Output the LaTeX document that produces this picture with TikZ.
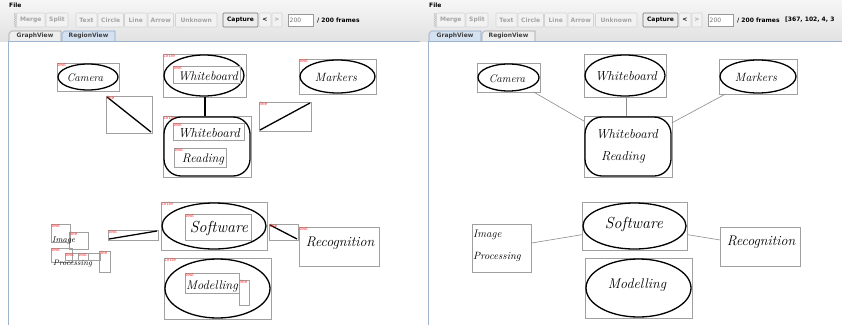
\documentclass[tikz,border=0pt]{standalone}
\usepackage{fontspec}
\newfontfamily\guifont{DejaVu Sans}
\usetikzlibrary{shapes.geometric}
\definecolor{gboxc}{HTML}{A0A0A0}
\definecolor{bluel}{HTML}{9DB4CE}
\definecolor{tabsel}{HTML}{D3E1F0}
\definecolor{tabB}{HTML}{8FA8C8}
\definecolor{topA}{HTML}{F6F6F6}
\definecolor{topB}{HTML}{E2E2E2}
\definecolor{btnB}{HTML}{D4D4D4}
\definecolor{btnF}{HTML}{F2F2F2}
\definecolor{disT}{HTML}{A4A4A4}
\definecolor{labred}{HTML}{FF2A2A}
\definecolor{conn}{HTML}{8C8C8C}
\newcommand\bx[6]{%
  \pgfmathsetmacro\bxcx{(#2+#4)/2}%
  \pgfmathsetmacro\bxcy{(#3+#5)/2}%
  \pgfmathsetmacro\bxw{#4-#2}%
  \pgfmathsetmacro\bxh{#5-#3}%
  \node[#6, minimum width=\bxw pt, minimum height=\bxh pt] (#1) at (\bxcx,\bxcy) {};}
\newcommand\btn[5]{% name x1 x2 text style
  \pgfmathsetmacro\bxcx{(#2+#3)/2}%
  \pgfmathsetmacro\bxw{#3-#2}%
  \node[#5, minimum width=\bxw pt] (#1) at (\bxcx,20) {#4};}
\newcommand\tabshape[6]{% name x1 x2 text fill draw
  \fill[#5] (#2,41) -- (#2,33.5) -- (#2+2.5,31) -- (#3,31) -- (#3,41) -- cycle;
  \draw[#6, line width=0.6pt] (#2,41) -- (#2,33.5) -- (#2+2.5,31) -- (#3,31) -- (#3,41);
  \pgfmathsetmacro\bxcx{(#2+#3)/2}%
  \node[gui, text=black!75] (#1) at (\bxcx,36) {#4};}
\newcommand\chrome[4]{% offset width suffix selected
\begin{scope}[xshift=#1pt]
  \shade[top color=topA, bottom color=topB] (0,0) rectangle (#2,41);
  \node[gui, anchor=west] (file#3) at (9,5) {File};
  \fill[black!12] (13.5,12.5) rectangle (16.5,27.5);
  \foreach \yy in {13.5,15.5,...,26.5} {\fill[black!35] (14.3,\yy) circle (0.35); \fill[black!35] (15.7,\yy+1) circle (0.35);}
  \btn{merge#3}{16.5}{45}{Merge}{dbtn}
  \btn{split#3}{46}{68}{Split}{dbtn}
  \btn{text#3}{76}{97}{Text}{dbtn}
  \btn{circ#3}{98}{123.5}{Circle}{dbtn}
  \btn{line#3}{124.5}{147}{Line}{dbtn}
  \btn{arrow#3}{148}{173.5}{Arrow}{dbtn}
  \btn{unk#3}{175.5}{217}{Unknown}{dbtn}
  \btn{cap#3}{223}{258}{Capture}{ebtn}
  \btn{prev#3}{259}{271}{<}{dbtn, text=black}
  \btn{next#3}{272}{282}{>}{dbtn}
  \btn{fld#3}{288}{313}{\phantom{0}}{fieldst}
  \node[gui, font=\guifont\fontsize{6}{7}\selectfont, text=black!55, anchor=west] (val#3) at (289.5,20) {200};
  \node[gui, anchor=west] (frm#3) at (317,20) {/ 200 frames};
  \ifnum#4=1
    \tabshape{gv#3}{9}{61}{GraphView}{tabsel}{tabB}
    \tabshape{rv#3}{62}{115}{RegionView}{topB!60!white}{gboxc}
  \else
    \tabshape{gv#3}{9}{61}{GraphView}{topB!60!white}{gboxc}
    \tabshape{rv#3}{62}{115}{RegionView}{tabsel}{tabB}
  \fi
  \draw[bluel, line width=0.9pt] (8,41) -- (#2,41);
  \draw[bluel, line width=0.9pt] (8,41) -- (8,330);
\end{scope}}
\begin{document}
\begin{tikzpicture}[x=1pt,y=-1pt,
  gui/.style={font=\guifont\bfseries\fontsize{6}{7}\selectfont, inner sep=0},
  dbtn/.style={gui, draw=btnB, fill=btnF, text=disT, rounded corners=1pt, minimum height=14pt, line width=0.6pt},
  ebtn/.style={dbtn, draw=black!55, fill=black!7, text=black},
  fieldst/.style={gui, draw=black!40, fill=white, minimum height=12pt, line width=0.6pt},
  gbox/.style={rectangle, draw=gboxc, line width=0.8pt, inner sep=0, outer sep=0},
  hwel/.style={ellipse, draw=black, line width=1.3pt, inner sep=0, outer sep=0},
  blob/.style={rectangle, rounded corners=17pt, draw=black, line width=1.3pt, inner sep=0, outer sep=0},
  lab/.style={font=\guifont\fontsize{4.3}{5}\selectfont, text=labred, inner sep=0.4pt, anchor=north west},
  blk/.style={draw=black, line width=1.3pt},
  cn/.style={draw=conn, line width=0.6pt},
  hw/.style={inner sep=0, font=\itshape\fontsize{#1}{#1}\selectfont},
  hw/.default=12]
\useasboundingbox (0,0) rectangle (842,324);
\clip (0,0) rectangle (842,324);
\fill[white] (0,0) rectangle (842,324);

\chrome{0}{423}{L}{2}
\chrome{420}{422}{R}{1}
\node[gui, anchor=west] (coords) at (785,20) {[367, 102, 4, 3};

% ===================== left window (RegionView) =====================
% Camera
\bx{camL}{57}{63}{119}{91}{gbox}
\bx{camLe}{58}{64}{118}{90}{hwel}
\node[hw=11] (camLt) at (85,78) {Camera};
\node[lab] (camLl) at (camL.north west) {text};
% line box 1
\bx{ln1}{106}{96}{152}{133}{gbox}
\draw[blk] ([shift={(1,1)}]ln1.north west) -- ([shift={(-1,-1)}]ln1.south east);
\node[lab] (ln1l) at (ln1.north west) {line};
% Whiteboard
\bx{wbL}{163}{54}{246}{97}{gbox}
\bx{wbLe}{164}{55}{244}{96}{hwel}
\bx{wbLi}{173}{66}{240}{83}{gbox}
\node[hw=12.5] (wbLt) at (208,76) {Whiteboard};
\node[lab] (wbLl) at (wbL.north west) {circle};
\node[lab] (wbLil) at (wbLi.north west) {text};
% Whiteboard Reading
\bx{wrL}{163}{116}{251}{177}{gbox}
\bx{wrLe}{164}{117}{250}{176}{blob}
\bx{wrLi}{173}{123}{244}{140}{gbox}
\bx{wrLj}{174}{148}{226}{167}{gbox}
\node[hw=13] (wrLt) at (209,133) {Whiteboard};
\node[hw=12.5] (wrLu) at (203,159) {Reading};
\node[lab] (wrLl) at (wrL.north west) {circle};
\node[lab] (wrLil) at (wrLi.north west) {text};
\node[lab] (wrLjl) at (wrLj.north west) {text};
\draw[blk] (wbL.south -| 205,0) -- (wrL.north -| 205,0);
% Markers
\bx{mkL}{299}{59}{376}{94}{gbox}
\bx{mkLe}{300}{60}{375}{93}{hwel}
\node[hw=12] (mkLt) at (336,77) {Markers};
\node[lab] (mkLl) at (mkL.north west) {text};
% line box 2
\bx{ln2}{259}{102}{311}{131}{gbox}
\draw[blk] ([shift={(1,-1)}]ln2.south west) -- ([shift={(-1,1)}]ln2.north east);
\node[lab] (ln2l) at (ln2.north west) {line};
% Image Processing fragments
\bx{imL}{51}{224}{70}{242}{gbox}
\bx{imL2}{69}{232}{88}{249}{gbox}
\bx{prL}{51}{248}{72}{262}{gbox}
\bx{prL2}{65}{253}{78}{260}{gbox}
\bx{prL3}{78}{253}{88}{260}{gbox}
\bx{prL4}{88}{253}{100}{260}{gbox}
\bx{prL5}{99}{251}{110}{272}{gbox}
\node[hw=8.5, anchor=west] (imLt) at (52,240.5) {Image};
\node[hw=8, anchor=west] (prLt) at (53,264) {Processing};
\node[lab] (imLl) at (imL.north west) {text};
\node[lab] (imL2l) at (imL2.north west) {line};
\node[lab] (prLl) at (prL.north west) {text};
\node[lab] (prL2l) at (prL2.north west) {text};
\node[lab] (prL3l) at (prL3.north west) {text};
\node[lab] (prL5l) at (prL5.north west) {line};
% small text-line box
\bx{tl}{108}{230}{158}{240}{gbox}
\draw[blk] ([shift={(1,-1)}]tl.south west) -- ([shift={(-1,1)}]tl.north east);
\node[lab] (tll) at (tl.north west) {text};
% Software
\bx{swL}{161}{202}{267}{250}{gbox}
\bx{swLe}{162}{203}{266}{249}{hwel}
\bx{swLi}{185}{214}{251}{240}{gbox}
\node[hw=16] (swLt) at (219,228) {Software};
\node[lab] (swLl) at (swL.north west) {circle};
\node[lab] (swLil) at (swLi.north west) {text};
% line box 3
\bx{ln3}{269}{224}{298}{240}{gbox}
\draw[blk] ([shift={(1,1)}]ln3.north west) -- ([shift={(-1,-1)}]ln3.south east);
\node[lab] (ln3l) at (ln3.north west) {line};
% Recognition
\bx{rcL}{299}{227}{379}{266}{gbox}
\node[hw=14] (rcLt) at (340,243) {Recognition};
\node[lab] (rcLl) at (rcL.north west) {text};
% Modelling
\bx{mdL}{164}{258}{271}{319}{gbox}
\bx{mdLe}{165}{259}{270}{318}{hwel}
\bx{mdLi}{185}{273}{239}{293}{gbox}
\bx{mdLj}{239}{280}{249}{305}{gbox}
\node[hw=12.5] (mdLt) at (212,286) {Modelling};
\node[lab] (mdLl) at (mdL.north west) {circle};
\node[lab] (mdLil) at (mdLi.north west) {text};
\node[lab] (mdLjl) at (mdLj.north west) {line};

% ===================== right window (GraphView) =====================
\bx{camR}{477}{63}{540}{92}{gbox}
\bx{camRe}{478}{64}{539}{91}{hwel}
\node[hw=11] (camRt) at (507,79) {Camera};
\bx{wbR}{584}{54}{666}{97}{gbox}
\bx{wbRe}{585}{55}{665}{96}{hwel}
\node[hw=13] (wbRt) at (626,76) {Whiteboard};
\bx{mkR}{719}{59}{797}{94}{gbox}
\bx{mkRe}{720}{60}{796}{93}{hwel}
\node[hw=12] (mkRt) at (756,77) {Markers};
\bx{wrR}{584}{116}{672}{177}{gbox}
\bx{wrRe}{585}{117}{671}{176}{blob}
\node[hw=13] (wrRt) at (627,134) {Whiteboard};
\node[hw=13] (wrRu) at (623,157) {Reading};
\bx{ipR}{472}{224}{531}{272}{gbox}
\node[hw=11, anchor=west] (ipRt) at (473,235) {Image};
\node[hw=10.5, anchor=west] (ipRu) at (473,257) {Processing};
\bx{swR}{582}{202}{687}{250}{gbox}
\bx{swRe}{583}{203}{686}{249}{hwel}
\node[hw=16] (swRt) at (634,224) {Software};
\bx{rcR}{720}{227}{800}{266}{gbox}
\node[hw=14] (rcRt) at (761,242) {Recognition};
\bx{mdR}{585}{258}{692}{318}{gbox}
\bx{mdRe}{586}{259}{691}{317}{hwel}
\node[hw=14] (mdRt) at (637,285) {Modelling};
% connectors
\draw[cn] (camR) -- (wrR);
\draw[cn] (wbR.south -| 626,0) -- (wrR.north -| 626,0);
\draw[cn] (mkR) -- (wrR);
\draw[cn] (ipR) -- (swR);
\draw[cn] (swR) -- (rcR);
\end{tikzpicture}
\end{document}
